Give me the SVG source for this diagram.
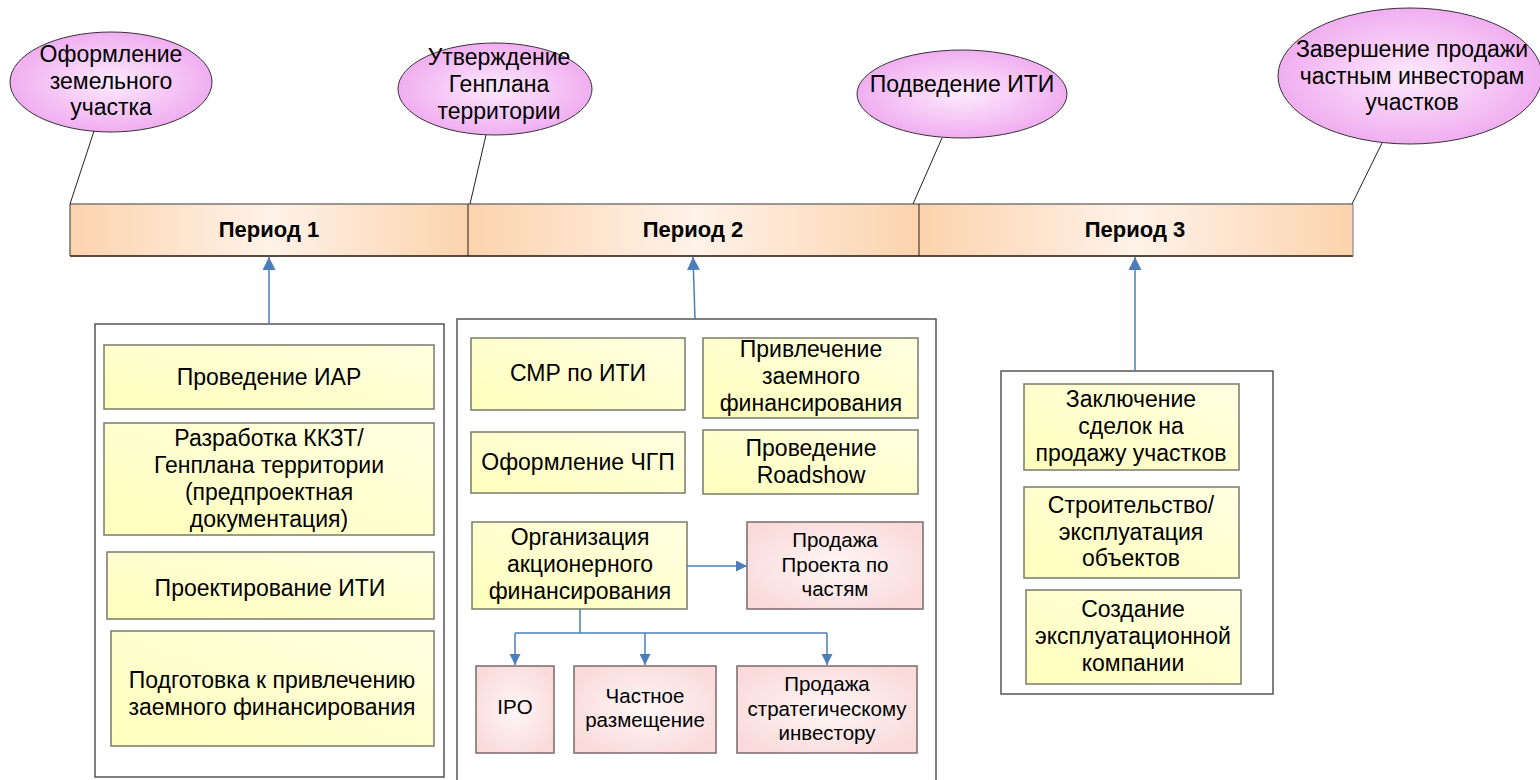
<svg xmlns="http://www.w3.org/2000/svg" width="1540" height="780" viewBox="0 0 1540 780">
<defs>
<linearGradient id="gBar" x1="0" y1="0" x2="1" y2="0">
<stop offset="0" stop-color="#fcd3ad"/><stop offset="0.5" stop-color="#fff2e8"/><stop offset="1" stop-color="#fcd3ad"/>
</linearGradient>
<radialGradient id="gEll" cx="0.5" cy="0.5" r="0.55">
<stop offset="0" stop-color="#fdeafd"/><stop offset="1" stop-color="#efa8ef"/>
</radialGradient>
<linearGradient id="gYel" x1="0" y1="1" x2="1" y2="0">
<stop offset="0" stop-color="#ffffbc"/><stop offset="1" stop-color="#ffffe2"/>
</linearGradient>
<radialGradient id="gPink" cx="0.5" cy="0.5" r="0.6">
<stop offset="0" stop-color="#fff6f6"/><stop offset="1" stop-color="#fadada"/>
</radialGradient>
<marker id="ah" viewBox="0 0 10 10" refX="10" refY="5" markerWidth="13" markerHeight="13" markerUnits="userSpaceOnUse" orient="auto">
<path d="M0,0 L10,5 L0,10 z" fill="#4a7ebb"/>
</marker>
<marker id="ahs" viewBox="0 0 10 10" refX="10" refY="5" markerWidth="11" markerHeight="11" markerUnits="userSpaceOnUse" orient="auto">
<path d="M0,0 L10,5 L0,10 z" fill="#4a7ebb"/>
</marker>
</defs>
<style>
text{font-family:"Liberation Sans",Arial,sans-serif;font-size:23px;fill:#000;text-anchor:middle}
.sm{font-size:20.5px}
.b{font-weight:bold;font-size:22px}
.ell{fill:url(#gEll);stroke:#333;stroke-width:1}
.lead{stroke:#222;stroke-width:1;fill:none}
.cont{fill:#fff;stroke:#555;stroke-width:1.5}
.yel{fill:url(#gYel);stroke:#7a7a6a;stroke-width:1.5}
.pink{fill:url(#gPink);stroke:#7a6a6a;stroke-width:1.5}
.bar{fill:url(#gBar);stroke:none}
.conn{stroke:#4a7ebb;stroke-width:1.5;fill:none}
</style>
<rect width="1540" height="780" fill="#fff"/>

<!-- milestones -->
<g id="ms1"><ellipse class="ell" cx="111" cy="82" rx="101" ry="50"/>
<text x="111" y="62">Оформление</text><text x="111" y="89">земельного</text><text x="111" y="115">участка</text></g>
<g id="ms2"><ellipse class="ell" cx="495" cy="89" rx="97" ry="46"/>
<text x="499" y="65">Утверждение</text><text x="499" y="92">Генплана</text><text x="499" y="119">территории</text></g>
<g id="ms3"><ellipse class="ell" cx="962" cy="94" rx="105" ry="44"/>
<text x="962" y="92">Подведение ИТИ</text></g>
<g id="ms4"><ellipse class="ell" cx="1410" cy="76" rx="132" ry="68"/>
<text x="1412" y="57">Завершение продажи</text><text x="1412" y="84">частным инвесторам</text><text x="1412" y="110">участков</text></g>

<!-- periods -->
<g id="p1"><rect class="bar" x="70" y="204" width="398" height="52"/>
<text class="b" x="269" y="237">Период 1</text></g>
<g id="p2"><rect class="bar" x="468" y="204" width="451" height="52"/>
<text class="b" x="693" y="237">Период 2</text></g>
<g id="p3"><rect class="bar" x="919" y="204" width="434" height="52"/>
<text class="b" x="1135" y="237">Период 3</text></g>
<g id="barlines">
<line x1="70" y1="204" x2="1353" y2="204" stroke="#777" stroke-width="1.5"/>
<line x1="70" y1="256" x2="1353" y2="256" stroke="#5a4a3e" stroke-width="2"/>
<line x1="70" y1="204" x2="70" y2="256" stroke="#333" stroke-width="1"/>
<line x1="468" y1="204" x2="468" y2="256" stroke="#222" stroke-width="1"/>
<line x1="919" y1="204" x2="919" y2="256" stroke="#222" stroke-width="1"/>
<line x1="1353" y1="204" x2="1353" y2="256" stroke="#777" stroke-width="1"/>
</g>

<!-- containers -->
<g id="c1"><rect class="cont" x="95" y="324" width="349" height="453"/></g>
<g id="c2"><rect class="cont" x="457" y="319" width="479" height="475"/></g>
<g id="c3"><rect class="cont" x="1001" y="371" width="272" height="323"/></g>

<!-- period 1 tasks -->
<g id="n_iar"><rect class="yel" x="104" y="345" width="330" height="64"/><text x="269" y="385">Проведение ИАР</text></g>
<g id="n_kkzt"><rect class="yel" x="104" y="423" width="330" height="112"/>
<text x="269" y="446">Разработка ККЗТ/</text><text x="269" y="473">Генплана территории</text><text x="269" y="500">(предпроектная</text><text x="269" y="527">документация)</text></g>
<g id="n_proj"><rect class="yel" x="107" y="552" width="327" height="67"/><text x="270" y="596">Проектирование ИТИ</text></g>
<g id="n_prep"><rect class="yel" x="111" y="631" width="323" height="115"/>
<text x="272" y="688">Подготовка к привлечению</text><text x="272" y="715">заемного финансирования</text></g>

<!-- period 2 tasks -->
<g id="n_smr"><rect class="yel" x="471" y="338" width="214" height="72"/><text x="578" y="381">СМР по ИТИ</text></g>
<g id="n_loan"><rect class="yel" x="703" y="338" width="215" height="80"/>
<text x="811" y="357">Привлечение</text><text x="811" y="384">заемного</text><text x="811" y="411">финансирования</text></g>
<g id="n_chgp"><rect class="yel" x="471" y="432" width="214" height="61"/><text x="578" y="470">Оформление ЧГП</text></g>
<g id="n_road"><rect class="yel" x="703" y="430" width="215" height="64"/>
<text x="811" y="456">Проведение</text><text x="811" y="483">Roadshow</text></g>
<g id="n_eq"><rect class="yel" x="472" y="522" width="215" height="87"/>
<text x="580" y="545">Организация</text><text x="580" y="572">акционерного</text><text x="580" y="599">финансирования</text></g>
<g id="n_parts"><rect class="pink" x="747" y="522" width="176" height="87"/>
<text class="sm" x="835" y="547">Продажа</text><text class="sm" x="835" y="572">Проекта по</text><text class="sm" x="835" y="596">частям</text></g>
<g id="n_ipo"><rect class="pink" x="476" y="666" width="78" height="87"/><text class="sm" x="515" y="714">IPO</text></g>
<g id="n_priv"><rect class="pink" x="574" y="666" width="142" height="87"/>
<text class="sm" x="645" y="703">Частное</text><text class="sm" x="645" y="727">размещение</text></g>
<g id="n_strat"><rect class="pink" x="737" y="666" width="180" height="87"/>
<text class="sm" x="827" y="691">Продажа</text><text class="sm" x="827" y="716">стратегическому</text><text class="sm" x="827" y="740">инвестору</text></g>

<!-- period 3 tasks -->
<g id="n_deals"><rect class="yel" x="1024" y="384" width="215" height="86"/>
<text x="1131" y="407">Заключение</text><text x="1131" y="434">сделок на</text><text x="1131" y="461">продажу участков</text></g>
<g id="n_build"><rect class="yel" x="1024" y="487" width="215" height="91"/>
<text x="1131" y="513">Строительство/</text><text x="1131" y="540">эксплуатация</text><text x="1131" y="566">объектов</text></g>
<g id="n_opco"><rect class="yel" x="1026" y="590" width="215" height="94"/>
<text x="1133" y="617">Создание</text><text x="1133" y="644">эксплуатационной</text><text x="1133" y="671">компании</text></g>

<!-- connectors -->
<g id="connectors">
<line class="lead" x1="94" y1="131" x2="70" y2="204"/>
<line class="lead" x1="486" y1="135" x2="470" y2="204"/>
<line class="lead" x1="942" y1="138" x2="913" y2="204"/>
<line class="lead" x1="1382" y1="143" x2="1352" y2="204"/>
<line class="conn" x1="269" y1="324" x2="269" y2="257" marker-end="url(#ah)"/>
<line class="conn" x1="695" y1="319" x2="693" y2="257" marker-end="url(#ah)"/>
<line class="conn" x1="1135" y1="371" x2="1135" y2="257" marker-end="url(#ah)"/>
<line class="conn" x1="687" y1="566" x2="747" y2="566" marker-end="url(#ahs)"/>
<polyline class="conn" points="580,609 580,633"/>
<line class="conn" x1="515" y1="633" x2="827" y2="633"/>
<line class="conn" x1="515" y1="633" x2="515" y2="665" marker-end="url(#ahs)"/>
<line class="conn" x1="645" y1="633" x2="645" y2="665" marker-end="url(#ahs)"/>
<line class="conn" x1="827" y1="633" x2="827" y2="665" marker-end="url(#ahs)"/>
</g>
</svg>
